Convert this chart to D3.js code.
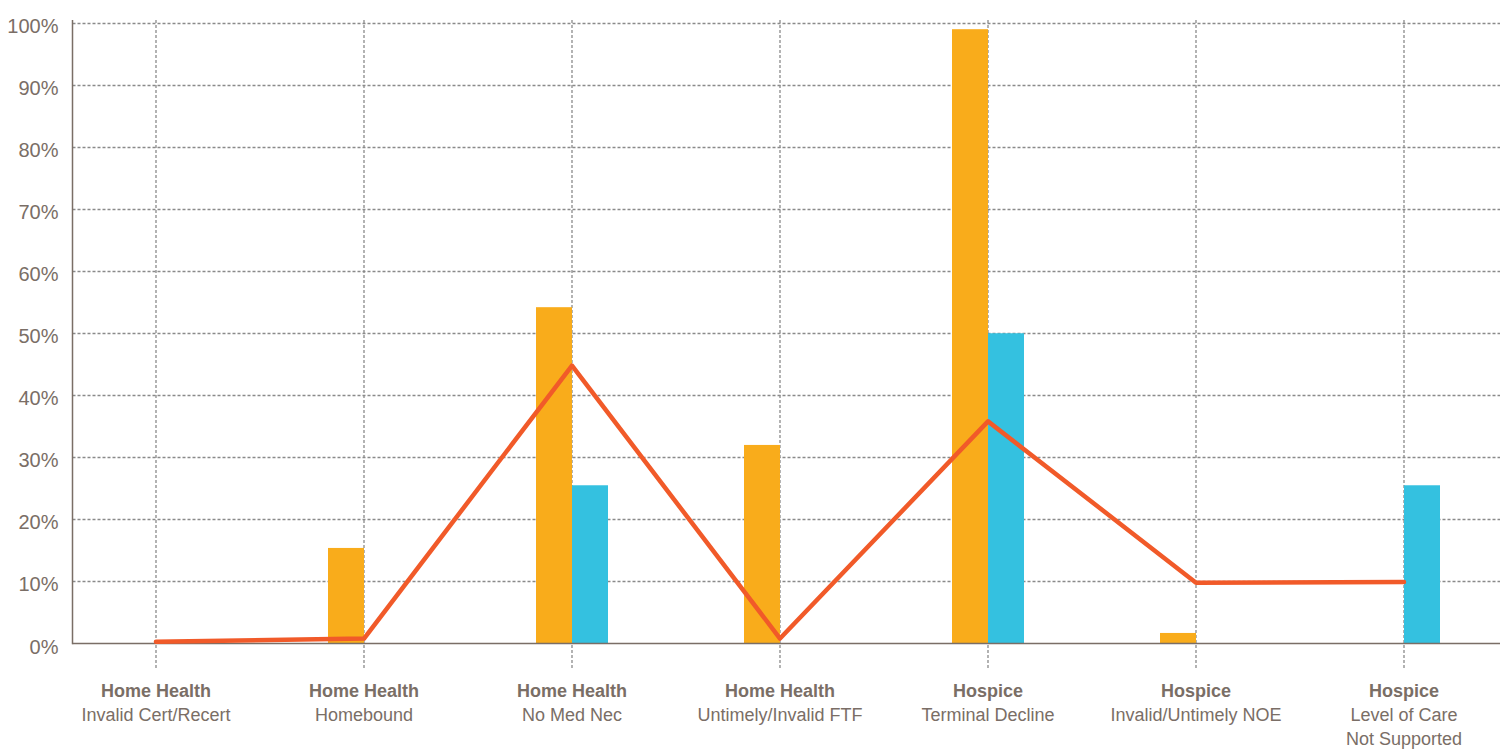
<!DOCTYPE html>
<html>
<head>
<meta charset="utf-8">
<script src="https://cdn.jsdelivr.net/npm/d3@7"></script>
<style>
  html, body { margin: 0; padding: 0; background: #fff; }
  svg { display: block; font-family: "Liberation Sans", Arial, sans-serif; }
</style>
</head>
<body>
<svg id="chart" width="1507" height="753"></svg>
<script>
// Data
const programs = ['Home Health', 'Home Health', 'Home Health', 'Home Health', 'Hospice', 'Hospice', 'Hospice'];
const reasons = [
    ['Invalid Cert/Recert'],
    ['Homebound'],
    ['No Med Nec'],
    ['Untimely/Invalid FTF'],
    ['Terminal Decline'],
    ['Invalid/Untimely NOE'],
    ['Level of Care', 'Not Supported']
];
const orangeValues = [0, 15.4, 54.2, 32, 99, 1.7, 0];
const blueValues = [0, 0, 25.5, 0, 50, 0, 25.5];
const lineValues = [0.3, 0.8, 44.8, 0.8, 35.8, 9.8, 9.9];
const yTicks = [0, 10, 20, 30, 40, 50, 60, 70, 80, 90, 100];

const textColor = '#7a6e66';
const gridColor = '#8a8a8a';

const svg = d3.select('#chart');
const axisX = 72.5;
const rightX = 1500;
const plotTop = 20;
const baseY = 643.5;
const barWidth = 36;

const idx = d3.range(programs.length);

// Scales
const x = d3.scalePoint()
    .domain(idx)
    .range([156, 1404]);

const y = d3.scaleLinear()
    .domain([0, 100])
    .range([baseY, 23]);

// Horizontal gridlines
svg.append('g')
    .selectAll('line')
    .data(yTicks.filter(d => d > 0))
    .join('line')
    .attr('x1', axisX)
    .attr('x2', rightX)
    .attr('y1', d => Math.round(y(d)) + 0.5)
    .attr('y2', d => Math.round(y(d)) + 0.5)
    .attr('stroke', gridColor)
    .attr('stroke-width', 1.3)
    .attr('stroke-dasharray', '3,2');

// Vertical gridlines (extend below the axis as ticks)
svg.append('g')
    .selectAll('line')
    .data(idx)
    .join('line')
    .attr('x1', d => x(d))
    .attr('x2', d => x(d))
    .attr('y1', plotTop)
    .attr('y2', 668)
    .attr('stroke', gridColor)
    .attr('stroke-width', 1.3)
    .attr('stroke-dasharray', '3,2');

// Bars
svg.append('g')
    .selectAll('rect')
    .data(idx.filter(i => orangeValues[i] > 0))
    .join('rect')
    .attr('x', i => x(i) - barWidth)
    .attr('y', i => y(orangeValues[i]))
    .attr('width', barWidth)
    .attr('height', i => y(0) - y(orangeValues[i]))
    .attr('fill', '#f9ac1b');

svg.append('g')
    .selectAll('rect')
    .data(idx.filter(i => blueValues[i] > 0))
    .join('rect')
    .attr('x', i => x(i))
    .attr('y', i => y(blueValues[i]))
    .attr('width', barWidth)
    .attr('height', i => y(0) - y(blueValues[i]))
    .attr('fill', '#34c1e0');

// Axes lines
svg.append('line')
    .attr('x1', axisX).attr('x2', axisX)
    .attr('y1', plotTop).attr('y2', baseY + 0.75)
    .attr('stroke', textColor)
    .attr('stroke-width', 1.5);

svg.append('line')
    .attr('x1', axisX).attr('x2', rightX)
    .attr('y1', baseY).attr('y2', baseY)
    .attr('stroke', textColor)
    .attr('stroke-width', 1.5);

// Y tick labels
svg.append('g')
    .selectAll('text')
    .data(yTicks)
    .join('text')
    .attr('x', 58.5)
    .attr('y', d => y(d) + 10)
    .attr('text-anchor', 'end')
    .attr('font-size', 20)
    .attr('fill', textColor)
    .text(d => d + '%');

// Category labels
const labels = svg.append('g')
    .selectAll('text')
    .data(idx)
    .join('text')
    .attr('x', i => x(i))
    .attr('y', 697)
    .attr('text-anchor', 'middle')
    .attr('font-size', 18)
    .attr('fill', textColor);

labels.append('tspan')
    .attr('x', i => x(i))
    .attr('font-weight', 'bold')
    .text(i => programs[i]);

labels.each(function(i) {
    const t = d3.select(this);
    reasons[i].forEach(line => {
        t.append('tspan')
            .attr('x', x(i))
            .attr('dy', 24)
            .text(line);
    });
});

// Line series
const line = d3.line()
    .x((d, i) => x(i))
    .y(d => y(d));

svg.append('path')
    .datum(lineValues)
    .attr('d', line)
    .attr('fill', 'none')
    .attr('stroke', '#f15a29')
    .attr('stroke-width', 4.5)
    .attr('stroke-linejoin', 'round')
    .attr('stroke-linecap', 'round');
</script>
</body>
</html>
